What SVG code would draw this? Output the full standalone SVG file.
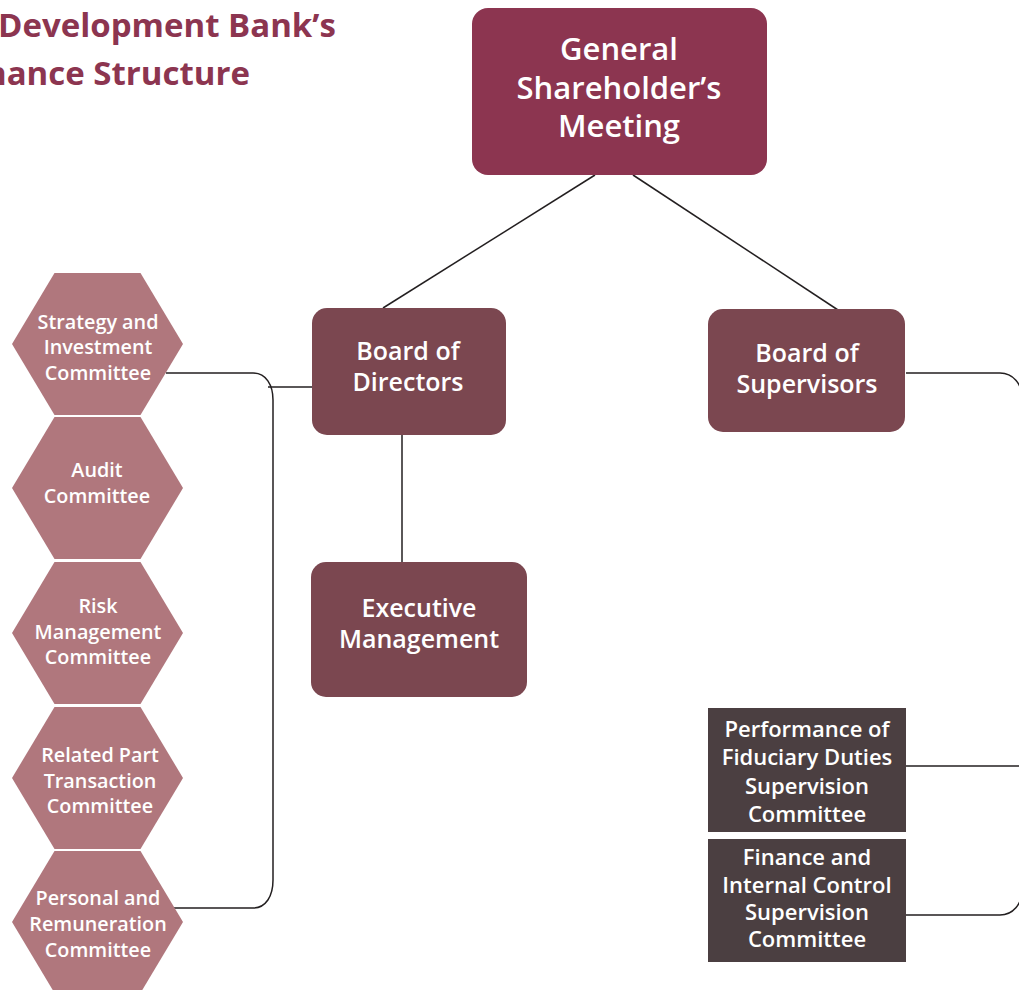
<svg xmlns="http://www.w3.org/2000/svg" xmlns:xlink="http://www.w3.org/1999/xlink" width="1019" height="990" viewBox="0 0 1019 990">
  <style>
    .title { font-family: "Open Sans", Lato, "Liberation Sans", sans-serif; font-weight: 700; fill: #8c3550; font-size: 33px; }
    .lbl { font-family: "Open Sans", Lato, "Liberation Sans", sans-serif; font-weight: 600; fill: #ffffff; text-anchor: middle; }
    .top { font-size: 31px; }
    .mid { font-size: 25px; }
    .hex { font-size: 19.8px; }
    .dark { font-size: 22px; }
    .conn { fill: none; stroke: #231f20; stroke-width: 1.5; }
    .gsm { fill: #8c3550; }
    .brd { fill: #7b4750; }
    .hx { fill: #b0777d; }
    .dk { fill: #4b3f41; }
  </style>
  <defs>
    <polygon id="hexShape" points="-85.5,0 -43,-71 43,-71 85.5,0 43,71 -43,71"/>
  </defs>
  <rect width="1019" height="990" fill="#ffffff"/>

  <g id="title">
    <text class="title" x="-2" y="37">Development Bank’s</text>
    <text class="title" x="-15" y="85">nance Structure</text>
  </g>

  <g id="connectors">
    <path class="conn" d="M595,175 L383,308"/>
    <path class="conn" d="M633,175 L838,310"/>
    <path class="conn" d="M402,435 V562"/>
    <path class="conn" d="M166,373 H253 C266,373 273,385 273,400 V880 C273,896 266,908 253,908 H174"/>
    <path class="conn" d="M268,387 H312"/>
    <path class="conn" d="M906,373 H1000 C1013,373 1022,384 1022,398 V890 C1022,904 1013,915 1000,915 H906"/>
    <path class="conn" d="M906,766 H1019"/>
  </g>

  <g id="general-shareholders-meeting">
    <rect class="gsm" x="472" y="8" width="295" height="167" rx="16"/>
    <text class="lbl top" x="619" y="60">General</text>
    <text class="lbl top" x="619" y="99">Shareholder’s</text>
    <text class="lbl top" x="619" y="137">Meeting</text>
  </g>

  <g id="board-of-directors">
    <rect class="brd" x="312" y="308" width="194" height="127" rx="15"/>
    <text class="lbl mid" x="408" y="360">Board of</text>
    <text class="lbl mid" x="408" y="391">Directors</text>
  </g>

  <g id="executive-management">
    <rect class="brd" x="311" y="562" width="216" height="135" rx="15"/>
    <text class="lbl mid" x="419" y="617">Executive</text>
    <text class="lbl mid" x="419" y="648">Management</text>
  </g>

  <g id="board-of-supervisors">
    <rect class="brd" x="708" y="309" width="197" height="123" rx="15"/>
    <text class="lbl mid" x="807" y="362">Board of</text>
    <text class="lbl mid" x="807" y="393">Supervisors</text>
  </g>

  <g id="strategy-investment-committee">
    <use xlink:href="#hexShape" class="hx" transform="translate(97.5,344)"/>
    <text class="lbl hex" x="98" y="329">Strategy and</text>
    <text class="lbl hex" x="98" y="354">Investment</text>
    <text class="lbl hex" x="98" y="380">Committee</text>
  </g>

  <g id="audit-committee">
    <use xlink:href="#hexShape" class="hx" transform="translate(97.5,488)"/>
    <text class="lbl hex" x="97" y="477">Audit</text>
    <text class="lbl hex" x="97" y="503">Committee</text>
  </g>

  <g id="risk-management-committee">
    <use xlink:href="#hexShape" class="hx" transform="translate(97.5,633)"/>
    <text class="lbl hex" x="98" y="613">Risk</text>
    <text class="lbl hex" x="98" y="639">Management</text>
    <text class="lbl hex" x="98" y="664">Committee</text>
  </g>

  <g id="related-party-transaction-committee">
    <use xlink:href="#hexShape" class="hx" transform="translate(97.5,778)"/>
    <text class="lbl hex" x="100" y="762">Related Part</text>
    <text class="lbl hex" x="100" y="788">Transaction</text>
    <text class="lbl hex" x="100" y="813">Committee</text>
  </g>

  <g id="personal-remuneration-committee">
    <use xlink:href="#hexShape" class="hx" transform="translate(97.5,922)"/>
    <text class="lbl hex" x="98" y="905">Personal and</text>
    <text class="lbl hex" x="98" y="931">Remuneration</text>
    <text class="lbl hex" x="98" y="957">Committee</text>
  </g>

  <g id="fiduciary-duties-committee">
    <rect class="dk" x="708" y="708" width="198" height="124"/>
    <text class="lbl dark" x="807" y="737">Performance of</text>
    <text class="lbl dark" x="807" y="765">Fiduciary Duties</text>
    <text class="lbl dark" x="807" y="794">Supervision</text>
    <text class="lbl dark" x="807" y="822">Committee</text>
  </g>

  <g id="finance-internal-control-committee">
    <rect class="dk" x="708" y="839" width="198" height="123"/>
    <text class="lbl dark" x="807" y="865">Finance and</text>
    <text class="lbl dark" x="807" y="893">Internal Control</text>
    <text class="lbl dark" x="807" y="920">Supervision</text>
    <text class="lbl dark" x="807" y="947">Committee</text>
  </g>
</svg>
